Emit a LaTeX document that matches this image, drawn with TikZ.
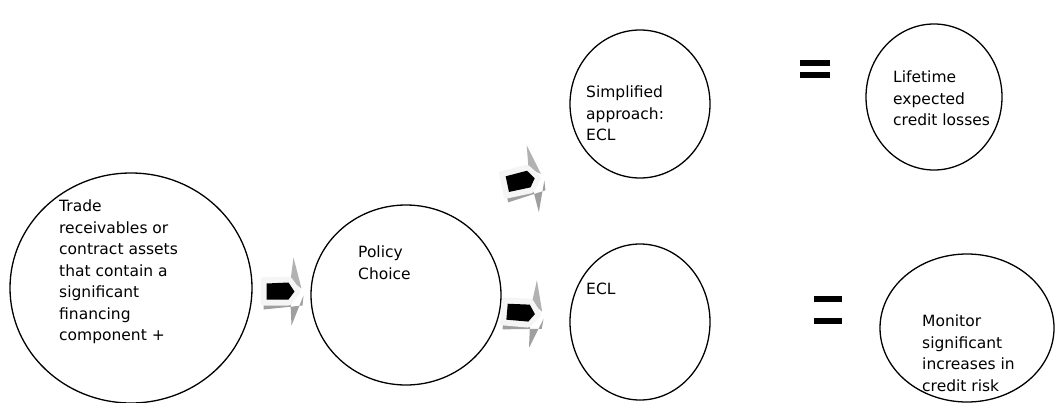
\documentclass[tikz,border=0pt]{standalone}
\usepackage{fontspec}
\setmainfont{DejaVu Sans}
\usetikzlibrary{shapes.geometric,calc}

\begin{document}
\begin{tikzpicture}[
    x=1pt, y=-1pt,
    every node/.style={font=\fontsize{15.5}{21.5}\selectfont},
    oval/.style={
        draw,
        ellipse,
        line width=1.3pt,
        inner sep=0pt
    },
    txt/.style={
        align=left,
        anchor=north west,
        inner sep=0pt
    },
    eqbar/.style={fill=black},
    blockarrow/.pic={
        % side faces
        \fill[gray!60] (9,-11) -- (12,-34) -- (20,-3) -- cycle;
        \fill[gray!75] (-18,13) -- (9,12) -- (10,34) -- (22,4) -- (21,14) -- (-18,18) -- cycle;
        % front face
        \fill[gray!8, rounded corners=2pt] (-21,-14) -- (9,-15) -- (20,0) -- (9,14) -- (-21,14) -- cycle;
        \fill[black] (-15,-8) -- (7,-9) -- (13,0) -- (7,8) -- (-15,8) -- cycle;
    }
]
\useasboundingbox (0,0) rectangle (1060,402);

% ==========================================================
% CIRCLES
% ==========================================================
\node[oval, minimum width=242pt, minimum height=230pt] (trade) at (131,288) {};
\node[oval, minimum width=190pt, minimum height=180pt] (policy) at (406,295) {};
\node[oval, minimum width=140pt, minimum height=148pt] (simple) at (640,104) {};
\node[oval, minimum width=136pt, minimum height=146pt] (life) at (934,97) {};
\node[oval, minimum width=140pt, minimum height=156pt] (ecl) at (640,322) {};
\node[oval, minimum width=174pt, minimum height=148pt] (monitor) at (967,328) {};

% ==========================================================
% TEXTS
% ==========================================================
\node[txt] (tradetxt) at (59,200) {Trade\\receivables or\\contract assets\\that contain a\\significant\\financing\\component +};
\node[txt] (policytxt) at (358,246) {Policy\\Choice};
\node[txt] (simpletxt) at (586,86) {Simplified\\approach:\\ECL};
\node[txt] (lifetxt) at (893,71) {Lifetime\\expected\\credit losses};
\node[txt] (ecltxt) at (586,283) {ECL};
\node[txt] (monitortxt) at (922,315) {Monitor\\significant\\increases in\\credit risk};

% ==========================================================
% ARROWS
% ==========================================================
\pic at ($(trade.east)!0.5!(policy.west)$) {blockarrow};
\pic[rotate=12] at (522,181) {blockarrow};
\pic[rotate=-5] at (522,313) {blockarrow};

% ==========================================================
% EQUALS
% ==========================================================
\fill[eqbar] (800,60) rectangle (830,66);
\fill[eqbar] (800,72) rectangle (830,78);
\fill[eqbar] (814,296) rectangle (842,302);
\fill[eqbar] (814,318) rectangle (842,324);

\end{tikzpicture}
\end{document}
